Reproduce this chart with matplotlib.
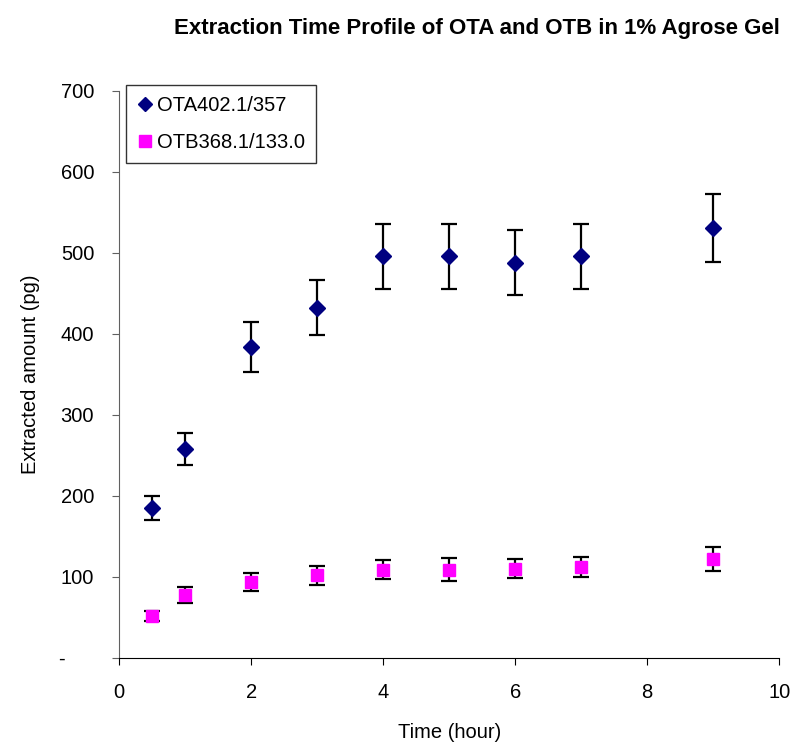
import matplotlib.pyplot as plt
from matplotlib.lines import Line2D
from matplotlib.ticker import FixedLocator, FuncFormatter

plt.rcParams['font.family'] = ['Liberation Sans', 'DejaVu Sans']

# extraction time (hour)
hours = [0.5, 1, 2, 3, 4, 5, 6, 7, 9]

# OTA 402.1/357 - mean and error
ota = [185, 258, 384, 432, 496, 496, 488, 496, 531]
ota_err = [15, 20, 31, 34, 40, 40, 40, 40, 42]

# OTB 368.1/133.0 - mean and error
otb = [52, 78, 94, 102, 109, 109, 110, 112, 122]
otb_err = [6, 10, 11, 12, 12, 14, 12, 12, 15]

yticks = [0, 100, 200, 300, 400, 500, 600, 700]

fig = plt.figure(figsize=(8, 7.45), dpi=100)
ax = fig.add_axes([0.149, 0.117, 0.825, 0.761])

ax.errorbar(hours, ota, yerr=ota_err, fmt='D', color='#000080', ms=8,
            ecolor='black', elinewidth=1.6, capsize=5.5, capthick=1.6, zorder=3)
ax.errorbar(hours, otb, yerr=otb_err, fmt='s', color='#FF00FF', ms=9,
            ecolor='black', elinewidth=1.6, capsize=5.5, capthick=1.6, zorder=3)

ax.set_xlim(0, 10)
ax.set_ylim(0, 700)
ax.set_xticks([0, 2, 4, 6, 8, 10])
ax.yaxis.set_major_locator(FixedLocator(yticks))
ax.yaxis.set_major_formatter(FuncFormatter(lambda v, p: '-     ' if v == 0 else '%d' % v))

for side in ['top', 'right']:
    ax.spines[side].set_visible(False)
ax.spines['left'].set_color('#606060')
ax.spines['bottom'].set_color('black')
ax.tick_params(axis='both', direction='out', length=5, labelsize=14.5)
ax.tick_params(axis='y', pad=13, colors='#606060', labelcolor='black')
ax.tick_params(axis='x', pad=13)

ax.set_xlabel('Time (hour)', fontsize=14.5, labelpad=15)
ax.set_ylabel('Extracted amount (pg)', fontsize=14.5, labelpad=14)

fig.text(0.596, 0.962, 'Extraction Time Profile of OTA and OTB in 1% Agrose Gel',
         ha='center', va='center', fontsize=16, fontweight='bold')

# legend shows the markers only, without the error bars
handles = [
    Line2D([], [], ls='none', marker='D', ms=7, color='#000080', label='OTA402.1/357'),
    Line2D([], [], ls='none', marker='s', ms=8, color='#FF00FF', label='OTB368.1/133.0'),
]
leg = ax.legend(handles=handles, loc='upper left', bbox_to_anchor=(0.011, 1.01),
                borderaxespad=0, fontsize=14.5, frameon=True, fancybox=False,
                edgecolor='black', handletextpad=0.25, handlelength=0.7,
                borderpad=0.55, labelspacing=0.9)
leg.get_frame().set_linewidth(1.0)

fig.savefig('out.png', dpi=100, facecolor='white')
